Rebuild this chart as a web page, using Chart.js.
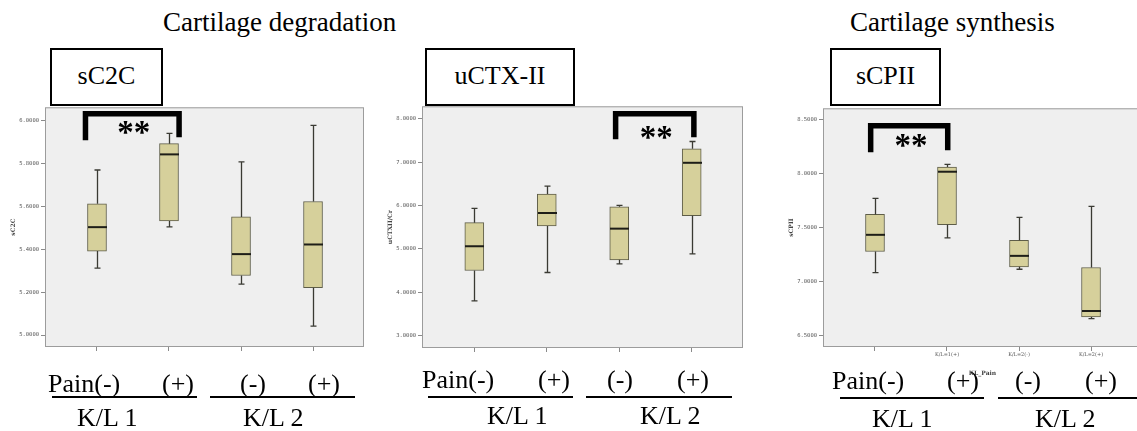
<!DOCTYPE html>
<html lang="en">
<head>
<meta charset="UTF-8">
<title>Cartilage degradation / synthesis</title>
<script src="https://cdn.jsdelivr.net/npm/chart.js"></script>
<style>
  body {
    margin: 0;
    width: 1137px;
    height: 431px;
    overflow: hidden;
    position: relative;
    background: #fff;
  }
  canvas { position: absolute; }
  .txt { position: absolute; white-space: nowrap; color: #000; font-family: "Liberation Serif", "Times New Roman", serif; }
  .tag { position: absolute; border: 2px solid #000; box-sizing: border-box; background: #fff; }
  .rule { position: absolute; height: 1.6px; background: #000; }
</style>
</head>
<body>

<canvas id="c1" width="369" height="275" style="left:0px;top:102px"></canvas>
<canvas id="c2" width="371" height="277" style="left:377px;top:101px"></canvas>
<canvas id="c3" width="369" height="274" style="left:778px;top:103px"></canvas>

<script>
// groups (x positions 1..4)
const categories = ['K/L=1(-)', 'K/L=1(+)', 'K/L=2(-)', 'K/L=2(+)'];
const positions = [1, 2, 3, 4];

// sC2C
const sc2cLow    = [5.313, 5.505, 5.238, 5.042];
const sc2cQ1     = [5.392, 5.533, 5.278, 5.221];
const sc2cMedian = [5.504, 5.844, 5.378, 5.423];
const sc2cQ3     = [5.613, 5.894, 5.552, 5.624];
const sc2cHigh   = [5.771, 5.942, 5.809, 5.980];
const sc2cTicks  = [5.0, 5.2, 5.4, 5.6, 5.8, 6.0];

// uCTX-II
const ctxLow    = [3.805, 4.457, 4.657, 4.887];
const ctxQ1     = [4.503, 5.531, 4.749, 5.768];
const ctxMedian = [5.063, 5.830, 5.469, 6.988];
const ctxQ3     = [5.607, 6.267, 5.975, 7.310];
const ctxHigh   = [5.937, 6.451, 6.006, 7.479];
const ctxTicks  = [3, 4, 5, 6, 7, 8];

// sCPII
const cpLow    = [7.085, 7.407, 7.116, 6.658];
const cpQ1     = [7.280, 7.528, 7.138, 6.673];
const cpMedian = [7.435, 8.020, 7.240, 6.729];
const cpQ3     = [7.624, 8.063, 7.385, 7.132];
const cpHigh   = [7.772, 8.088, 7.596, 7.698];
const cpTicks  = [6.5, 7.0, 7.5, 8.0, 8.5];

// x labels that show on the third plot only
const cpXLabels = ['', 'K/L=1(+)', 'K/L=2(-)', 'K/L=2(+)'];

// significance brackets, in data units of each plot
const brackets = [
    { x1: 0.84, x2: 2.14, top: 6.034, endL: 5.910, endR: 5.924, starX: 1.51, starY: 5.971 },
    { x1: 2.95, x2: 4.03, top: 8.118, endL: 7.531, endR: 7.577, starX: 3.51, starY: 7.692 },
    { x1: 0.94, x2: 2.01, top: 8.446, endL: 8.201, endR: 8.219, starX: 1.50, starY: 8.312 }
];

const panels = [
    { id: 'c1', title: 'sC2C', yMin: 4.944, yMax: 6.064, ticks: sc2cTicks, titlePad: 10, xLabels: null,
      low: sc2cLow, q1: sc2cQ1, med: sc2cMedian, q3: sc2cQ3, high: sc2cHigh, bracket: brackets[0] },
    { id: 'c2', title: 'uCTXII/Cr', yMin: 2.716, yMax: 8.291, ticks: ctxTicks, titlePad: 9.5, xLabels: null,
      low: ctxLow, q1: ctxQ1, med: ctxMedian, q3: ctxQ3, high: ctxHigh, bracket: brackets[1] },
    { id: 'c3', title: 'sCPII', yMin: 6.395, yMax: 8.608, ticks: cpTicks, titlePad: 10, xLabels: cpXLabels,
      low: cpLow, q1: cpQ1, med: cpMedian, q3: cpQ3, high: cpHigh, bracket: brackets[2] }
];

const xMin = 0.278, xMax = 4.708;
const boxW = 19;

// plot background + frame
const frame = {
    id: 'frame',
    beforeDraw(chart) {
        const a = chart.chartArea, ctx = chart.ctx;
        ctx.save();
        ctx.fillStyle = '#efefef';
        ctx.fillRect(a.left, a.top, a.right - a.left, a.bottom - a.top);
        ctx.strokeStyle = '#9c9c9c';
        ctx.lineWidth = 1;
        ctx.strokeRect(a.left + 0.5, a.top + 0.5, a.right - a.left - 1, a.bottom - a.top - 1);
        ctx.restore();
    }
};

// whiskers, caps and medians on top of the floating bars
const whiskers = {
    id: 'whiskers',
    afterDatasetsDraw(chart, args, opts) {
        const p = opts.panel, ctx = chart.ctx;
        const xs = chart.scales.x, ys = chart.scales.y;
        ctx.save();
        positions.forEach((pos, i) => {
            const x = Math.round(xs.getPixelForValue(pos)) + 0.5;
            ctx.strokeStyle = '#3a3a33';
            ctx.lineWidth = 1.3;
            ctx.beginPath();
            ctx.moveTo(x, ys.getPixelForValue(p.high[i]));
            ctx.lineTo(x, ys.getPixelForValue(p.q3[i]));
            ctx.moveTo(x, ys.getPixelForValue(p.q1[i]));
            ctx.lineTo(x, ys.getPixelForValue(p.low[i]));
            ctx.moveTo(x - 3, ys.getPixelForValue(p.high[i]));
            ctx.lineTo(x + 3, ys.getPixelForValue(p.high[i]));
            ctx.moveTo(x - 3, ys.getPixelForValue(p.low[i]));
            ctx.lineTo(x + 3, ys.getPixelForValue(p.low[i]));
            ctx.stroke();
            ctx.strokeStyle = '#1e1e18';
            ctx.lineWidth = 2;
            ctx.beginPath();
            const ym = ys.getPixelForValue(p.med[i]);
            ctx.moveTo(x - boxW / 2, ym);
            ctx.lineTo(x + boxW / 2, ym);
            ctx.stroke();
        });
        ctx.restore();
    }
};

// ** brackets
const bracket = {
    id: 'bracket',
    afterDraw(chart, args, opts) {
        const b = opts.panel.bracket, ctx = chart.ctx;
        const xs = chart.scales.x, ys = chart.scales.y;
        const xl = xs.getPixelForValue(b.x1), xr = xs.getPixelForValue(b.x2);
        const yt = ys.getPixelForValue(b.top);
        ctx.save();
        ctx.strokeStyle = '#000';
        ctx.lineWidth = 5.5;
        ctx.lineJoin = 'miter';
        ctx.beginPath();
        ctx.moveTo(xl, ys.getPixelForValue(b.endL));
        ctx.lineTo(xl, yt);
        ctx.lineTo(xr, yt);
        ctx.lineTo(xr, ys.getPixelForValue(b.endR));
        ctx.stroke();
        ctx.fillStyle = '#000';
        ctx.font = 'bold 33px "Liberation Serif", serif';
        ctx.textAlign = 'center';
        const m = ctx.measureText('**');
        const yc = ys.getPixelForValue(b.starY);
        const base = yc - (m.actualBoundingBoxDescent - m.actualBoundingBoxAscent) / 2;
        ctx.fillText('**', xs.getPixelForValue(b.starX), base);
        ctx.restore();
    }
};

function makePanel(p) {
    new Chart(document.getElementById(p.id), {
        type: 'bar',
        data: {
            datasets: [{
                data: positions.map((pos, i) => ({ x: pos, y: [p.q1[i], p.q3[i]] })),
                backgroundColor: '#d6d09b',
                borderColor: '#5e5d48',
                borderWidth: 1,
                borderSkipped: false,
                barThickness: boxW
            }]
        },
        options: {
            responsive: false,
            animation: false,
            events: [],
            layout: { padding: { top: 5, right: 5, left: 0, bottom: 0 } },
            plugins: {
                legend: { display: false },
                tooltip: { enabled: false },
                whiskers: { panel: p },
                bracket: { panel: p }
            },
            scales: {
                x: {
                    type: 'linear',
                    bounds: 'data',
                    min: xMin,
                    max: xMax,
                    offset: false,
                    afterBuildTicks: s => { s.ticks = positions.map(v => ({ value: v })); },
                    afterFit: s => { s.height = 30; },
                    grid: { offset: false, drawOnChartArea: false, drawTicks: true, tickLength: 4, color: '#8a8a8a' },
                    border: { display: false },
                    ticks: {
                        display: !!p.xLabels,
                        autoSkip: false,
                        maxRotation: 0,
                        padding: 1,
                        color: '#555',
                        font: { size: 5, family: 'DejaVu Serif' },
                        callback: (v, i) => p.xLabels ? p.xLabels[i] : ''
                    },
                    title: {
                        display: !!p.xLabels,
                        text: 'KL_Pain',
                        color: '#444',
                        font: { size: 6, weight: 'bold', family: 'DejaVu Serif' },
                        padding: { top: 1, bottom: 0 }
                    }
                },
                y: {
                    bounds: 'data',
                    min: p.yMin,
                    max: p.yMax,
                    afterBuildTicks: s => { s.ticks = p.ticks.map(v => ({ value: v })); },
                    afterFit: s => { s.width = 45; },
                    grid: { drawOnChartArea: false, drawTicks: true, tickLength: 4, color: '#8a8a8a' },
                    border: { display: false },
                    ticks: {
                        padding: 2,
                        color: '#555',
                        font: { size: 5.5, family: 'DejaVu Sans Mono' },
                        callback: v => v.toFixed(4)
                    },
                    title: {
                        display: true,
                        text: p.title,
                        color: '#444',
                        font: { size: 6, weight: 'bold', family: 'DejaVu Serif' },
                        padding: { top: p.titlePad, bottom: 0 }
                    }
                }
            }
        },
        plugins: [frame, whiskers, bracket]
    });
}

panels.forEach(makePanel);

// surrounding annotation text (left, baseline, size)
const texts = [
    ['Cartilage degradation', 163, 32, 27],
    ['Cartilage synthesis', 850, 32, 27],
    ['Pain(-)', 48, 393, 26], ['(+)', 162, 393, 26], ['(-)', 240, 393, 26], ['(+)', 308, 393, 26],
    ['K/L 1', 77, 427, 26], ['K/L 2', 243, 427, 26],
    ['Pain(-)', 422, 389, 26], ['(+)', 538, 389, 26], ['(-)', 607, 389, 26], ['(+)', 677, 389, 26],
    ['K/L 1', 487, 425, 26], ['K/L 2', 640, 425, 26],
    ['Pain(-)', 832, 390, 26], ['(+)', 947, 390, 26], ['(-)', 1015, 390, 26], ['(+)', 1085, 390, 26],
    ['K/L 1', 872, 428, 26], ['K/L 2', 1035, 428, 26]
];
const tags = [
    ['sC2C', 50, 48, 113, 58],
    ['uCTX-II', 425, 48, 150, 58],
    ['sCPII', 830, 48, 111, 58]
];
const rules = [
    [52, 197, 396], [210, 355, 396],
    [428, 573, 396], [586, 732, 396],
    [840, 984, 397], [998, 1140, 397]
];

function addText(str, left, baseline, size, center) {
    const d = document.createElement('div');
    d.className = 'txt';
    d.textContent = str;
    d.style.fontSize = size + 'px';
    d.style.lineHeight = size + 'px';
    d.style.left = left + 'px';
    d.style.top = (baseline - 0.8375 * size) + 'px';
    if (center) d.style.transform = 'translateX(-50%)';
    document.body.appendChild(d);
}

tags.forEach(([t, l, top, w, h]) => {
    const d = document.createElement('div');
    d.className = 'tag';
    Object.assign(d.style, { left: l + 'px', top: top + 'px', width: w + 'px', height: h + 'px' });
    document.body.appendChild(d);
    addText(t, l + w / 2, 85, 26, true);
});
texts.forEach(([t, l, b, s]) => addText(t, l, b, s, false));
rules.forEach(([x1, x2, y]) => {
    const d = document.createElement('div');
    d.className = 'rule';
    Object.assign(d.style, { left: x1 + 'px', top: y + 'px', width: (x2 - x1) + 'px' });
    document.body.appendChild(d);
});
</script>
</body>
</html>
